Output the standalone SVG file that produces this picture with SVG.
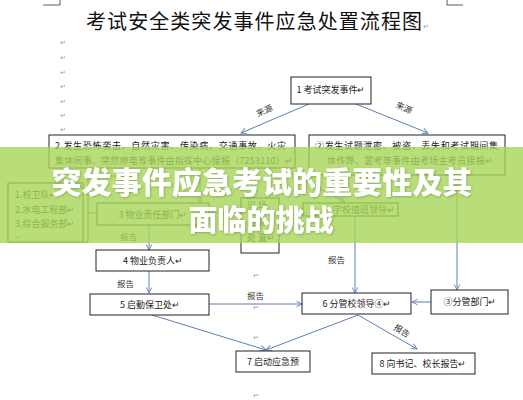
<svg xmlns="http://www.w3.org/2000/svg" width="523" height="400" viewBox="0 0 523 400">
<style>
.box{fill:#fff;stroke:#222;stroke-width:1}
.t{font-family:"Noto Sans CJK SC","Liberation Sans",sans-serif;font-size:9px;fill:#222}
.lbl{font-family:"Noto Sans CJK SC","Liberation Sans",sans-serif;font-size:8.5px;fill:#333}
.ret{font-family:"DejaVu Sans",sans-serif;font-size:7px;fill:#999}
.c{stroke:#5b80b6;stroke-width:1;fill:none}
.ca{stroke:#5b80b6;stroke-width:1;fill:none;marker-end:url(#ah)}
.br{stroke:#333;stroke-width:0.8;fill:none}
.ban{font-family:"Noto Sans CJK SC","Liberation Sans",sans-serif;font-weight:900;fill:#fff}
</style>
<defs>
<marker id="ah" viewBox="0 0 10 10" refX="9" refY="5" markerWidth="7" markerHeight="7" orient="auto" markerUnits="userSpaceOnUse">
<path d="M1,1 L9,5 L1,9" fill="none" stroke="#5b80b6" stroke-width="1.3"/>
</marker>
<filter id="sh" x="-5%" y="-20%" width="110%" height="140%">
<feDropShadow dx="0.8" dy="0.8" stdDeviation="0.8" flood-color="#4a6a20" flood-opacity="0.45"/>
</filter>
</defs>
<rect width="523" height="400" fill="#fff"/>
<g id="corners" class="br">
<path d="M43,5 H60 V0"/>
<path d="M463,5 H447 V0"/>
</g>
<text id="title" x="254" y="29" text-anchor="middle" font-family="'Noto Sans CJK SC',sans-serif" font-size="20" fill="#111" textLength="336" lengthAdjust="spacing">考试安全类突发事件应急处置流程图</text>
<text class="ret" x="423" y="29">↵</text>
<g id="returns">
<text class="ret" x="60" y="45">↵</text>
<text class="ret" x="60" y="60">↵</text>
<text class="ret" x="60" y="75">↵</text>
<text class="ret" x="60" y="89">↵</text>
<text class="ret" x="60" y="104">↵</text>
<text class="ret" x="60" y="118">↵</text>
<text class="ret" x="60" y="132">↵</text>
<text class="ret" x="253" y="278">↵</text>
<text class="ret" x="253" y="310">↵</text>
<text class="ret" x="253" y="340">↵</text>
<text class="ret" x="253" y="398">↵</text>
</g>
<g id="connectors">
<line class="ca" x1="309" y1="104" x2="241" y2="133"/>
<line class="ca" x1="356" y1="104" x2="428" y2="133"/>
<text class="lbl" transform="translate(258,117) rotate(-25)">来源</text>
<text class="lbl" transform="translate(395,107) rotate(25)">来源</text>
<line class="ca" x1="200" y1="168" x2="200" y2="203"/>
<line class="ca" x1="285" y1="170" x2="345" y2="202"/>
<line class="ca" x1="241" y1="213" x2="210" y2="213"/>
<path class="br" d="M83,242 H88 V176 H130"/>
<line class="br" x1="88" y1="213" x2="97" y2="213"/>
<line class="ca" x1="149" y1="225" x2="149" y2="250"/>
<text class="lbl" x="120" y="240">报告</text>
<line class="ca" x1="355" y1="216" x2="355" y2="293"/>
<text class="lbl" x="328" y="263">报告</text>
<line class="ca" x1="457" y1="175" x2="457" y2="290"/>
<line class="ca" x1="149" y1="271" x2="149" y2="293"/>
<text class="lbl" x="117" y="287">报告</text>
<line class="ca" x1="209" y1="304" x2="302" y2="304"/>
<text class="lbl" x="247" y="299">报告</text>
<line class="ca" x1="431" y1="302" x2="412" y2="302"/>
<line class="ca" x1="152" y1="315" x2="266" y2="350"/>
<line class="ca" x1="358" y1="315" x2="266" y2="350"/>
<line class="ca" x1="358" y1="315" x2="417" y2="349"/>
<text class="lbl" transform="translate(393,329) rotate(32)">报告</text>
</g>
<g id="n1"><rect class="box" x="291" y="77" width="80" height="27"/><text class="t" x="331" y="93" text-anchor="middle">1 考试突发事件↵</text></g>
<g id="n2"><rect class="box" x="49" y="135" width="246" height="33"/>
<text class="t" x="55" y="148.5" textLength="231" lengthAdjust="spacing">2 发生恐怖袭击、自然灾害、传染病、交通事故、火灾</text>
<text class="t" x="55" y="163.5" textLength="238" lengthAdjust="spacing">集体闹事、突然停电等事件由指挥中心接报（7253110）↵</text></g>
<g id="n2b"><rect class="box" x="309" y="135" width="196" height="40"/>
<text class="t" x="315" y="148.5" textLength="183" lengthAdjust="spacing">②发生试题泄密、被盗、丢失和考试期间集</text>
<text class="t" x="327" y="163.5" textLength="166" lengthAdjust="spacing">体作弊、罢考等事件由考场主考员接报↵</text></g>
<g id="nL"><rect class="box" x="8" y="183" width="75" height="59"/>
<text class="t" x="15" y="198">1.校卫队↵</text>
<text class="t" x="15" y="213">2.水电工程部↵</text>
<text class="t" x="15" y="227">3.综合服务部↵</text>
<text class="ret" x="15" y="240">↵</text></g>
<g id="n3"><rect class="box" x="97" y="203" width="112" height="22"/><text class="t" x="153" y="217.5" text-anchor="middle">3 物业责任部门↵</text></g>
<g id="nX"><rect class="box" x="241" y="198" width="38" height="55"/>
<text class="t" x="247" y="209">现  场</text>
<text class="t" x="247" y="225">应  急</text>
<text class="t" x="247" y="241">处  置↵</text></g>
<g id="nD"><rect class="box" x="303" y="203" width="95" height="13"/><text class="t" x="333" y="213">学校值班领导↵</text></g>
<g id="n4"><rect class="box" x="96" y="250" width="113" height="21"/><text class="t" x="153" y="264" text-anchor="middle">4 物业负责人↵</text></g>
<g id="n5"><rect class="box" x="90" y="294" width="119" height="21"/><text class="t" x="150" y="308" text-anchor="middle">5 启動保卫处↵</text></g>
<g id="n6"><rect class="box" x="302" y="293" width="109" height="21"/><text class="t" x="357" y="307" text-anchor="middle">6 分管校领导④↵</text></g>
<g id="n3b"><rect class="box" x="431" y="290" width="77" height="24"/><text class="t" x="470" y="305" text-anchor="middle">③分管部门↵</text></g>
<g id="n7"><rect class="box" x="236" y="351" width="74" height="21"/><text class="t" x="273" y="365" text-anchor="middle">7  启动应急预</text></g>
<g id="n8"><rect class="box" x="372" y="353" width="103" height="21"/><text class="t" x="423" y="367" text-anchor="middle">8 向书记、校长报告↵</text></g>
<g id="banner">
<rect x="0" y="147" width="523" height="96" fill="#a6d558" fill-opacity="0.8"/>
<g filter="url(#sh)">
<text class="ban" x="262" y="193" font-size="30" text-anchor="middle" textLength="421" lengthAdjust="spacing">突发事件应急考试的重要性及其</text>
<text class="ban" x="261" y="231" font-size="29" text-anchor="middle">面临的挑战</text>
</g>
</g>
</svg>
